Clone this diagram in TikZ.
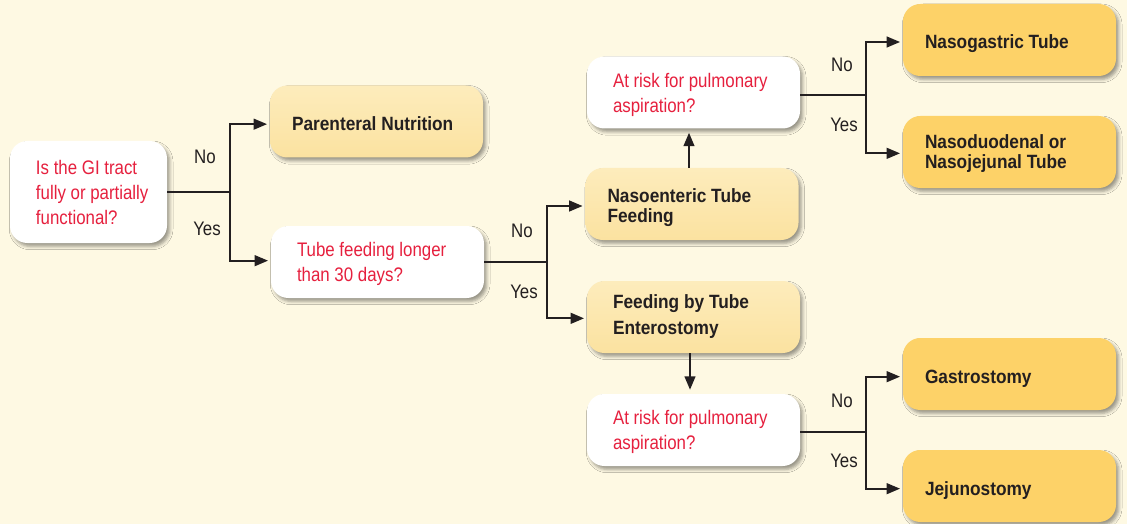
\documentclass[tikz,border=0pt]{standalone}
\usepackage{fontspec}
\setmainfont{Liberation Sans}[FakeStretch=0.86]
\newfontfamily\boldfam{Liberation Sans}[FakeStretch=0.9]
\usetikzlibrary{arrows.meta,shadows.blur}
\definecolor{bg}{RGB}{254,249,227}
\definecolor{qred}{RGB}{230,32,62}
\definecolor{lighttop}{RGB}{253,236,188}
\definecolor{lightbot}{RGB}{251,226,160}
\definecolor{orangebox}{RGB}{253,210,104}
\definecolor{ink}{RGB}{35,31,32}
\begin{document}
\begin{tikzpicture}[x=0.75pt,y=-0.75pt,
 box/.style={rounded corners=13pt, minimum width=159.75pt, minimum height=54pt, inner sep=0pt,
   blur shadow={shadow xshift=2pt, shadow yshift=-2.5pt, shadow blur radius=2.5pt, shadow opacity=40}},
 qbox/.style={box, fill=white},
 lbox/.style={box, top color=lighttop, bottom color=lightbot},
 obox/.style={box, fill=orangebox},
 qtext/.style={anchor=west, inner sep=0pt, align=left, text=qred, font=\fontsize{14.7}{18.75}\selectfont},
 atext/.style={anchor=west, inner sep=0pt, align=left, text=ink, font=\boldfam\bfseries\fontsize{14.4}{15}\selectfont},
 lab/.style={text=ink, inner sep=0pt, font=\fontsize{14.7}{16}\selectfont},
 conn/.style={draw=ink, line width=1.5pt},
 arr/.style={conn, -{Triangle[length=10pt,width=8pt]}, shorten >=2pt},
]
\fill[bg] (0,0) rectangle (1127,524);
\useasboundingbox (0,0) rectangle (1127,524);

% boxes
\node[qbox, minimum width=117.75pt, minimum height=76.5pt] (q1) at (88.5,192) {};
\node[lbox] (pn) at (376.5,121.5) {};
\node[qbox] (q2) at (377.5,262) {};
\node[lbox] (ntf) at (692,204) {};
\node[qbox] (q3) at (693.5,92.5) {};
\node[lbox] (fte) at (693.5,317) {};
\node[qbox] (q4) at (693.5,430) {};
\node[obox] (ngt) at (1009.5,40) {};
\node[obox] (nd) at (1009.5,152) {};
\node[obox] (gas) at (1009.5,374) {};
\node[obox] (jej) at (1009.5,486) {};

% texts
\node[qtext] (t1) at ([xshift=19.5pt,yshift=-0.5pt]q1.west) {Is the GI tract\\fully or partially\\functional?};
\node[atext] (t2) at ([xshift=16.5pt,yshift=-1.5pt]pn.west) {Parenteral Nutrition};
\node[qtext] (t3) at ([xshift=19.5pt,yshift=-1.5pt]q2.west) {Tube feeding longer\\than 30 days?};
\node[atext] (t4) at ([xshift=16.5pt,yshift=-2.5pt]ntf.west) {Nasoenteric Tube\\Feeding};
\node[qtext] (t5) at ([xshift=19.5pt,yshift=-1.5pt]q3.west) {At risk for pulmonary\\aspiration?};
\node[atext] (t6) at ([xshift=19.5pt]fte.west) {Feeding by Tube\\[4.5pt]Enterostomy};
\node[qtext] (t7) at ([xshift=19.5pt,yshift=-1.5pt]q4.west) {At risk for pulmonary\\aspiration?};
\node[atext] (t8) at ([xshift=16.5pt,yshift=-3pt]ngt.west) {Nasogastric Tube};
\node[atext] (t9) at ([xshift=16.5pt,yshift=-1pt]nd.west) {Nasoduodenal or\\Nasojejunal Tube};
\node[atext] (t10) at ([xshift=16.5pt,yshift=-3.5pt]gas.west) {Gastrostomy};
\node[atext] (t11) at ([xshift=16.5pt,yshift=-3.5pt]jej.west) {Jejunostomy};

% junctions
\coordinate (j1) at (230,192);
\coordinate (j2) at (547,262);
\coordinate (j3) at (866,95);
\coordinate (j4) at (866,432);

\draw[conn] (q1.east) -- (j1);
\draw[arr] (j1) |- ([yshift=-2pt]pn.west);
\draw[arr] (j1) |- ([yshift=1pt]q2.west);
\draw[conn] (q2.east |- j2) -- (j2);
\draw[arr] (j2) |- ([yshift=-1.5pt]ntf.west);
\draw[arr] (j2) |- ([yshift=-1pt]fte.west);
\draw[conn] (q3.east |- j3) -- (j3);
\draw[arr] (j3) |- ([yshift=-1.5pt]ngt.west);
\draw[arr] (j3) |- ([yshift=-1pt]nd.west);
\draw[conn] (q4.east |- j4) -- (j4);
\draw[arr] (j4) |- ([yshift=-2pt]gas.west);
\draw[arr] (j4) |- ([yshift=-2pt]jej.west);
\draw[arr, shorten >=3pt] (ntf.north -| 689,0) -- (q3.south -| 689,0);
\draw[arr, shorten >=3pt] (fte.south -| 690,0) -- (q4.north -| 690,0);

% labels
\node[lab] (n1) at (205,157) {No};
\node[lab] (y1) at (207,229) {Yes};
\node[lab] (n2) at (522,231) {No};
\node[lab] (y2) at (524,292) {Yes};
\node[lab] (n3) at (842,65) {No};
\node[lab] (y3) at (844,125) {Yes};
\node[lab] (n4) at (842,401) {No};
\node[lab] (y4) at (844,461) {Yes};
\end{tikzpicture}
\end{document}
